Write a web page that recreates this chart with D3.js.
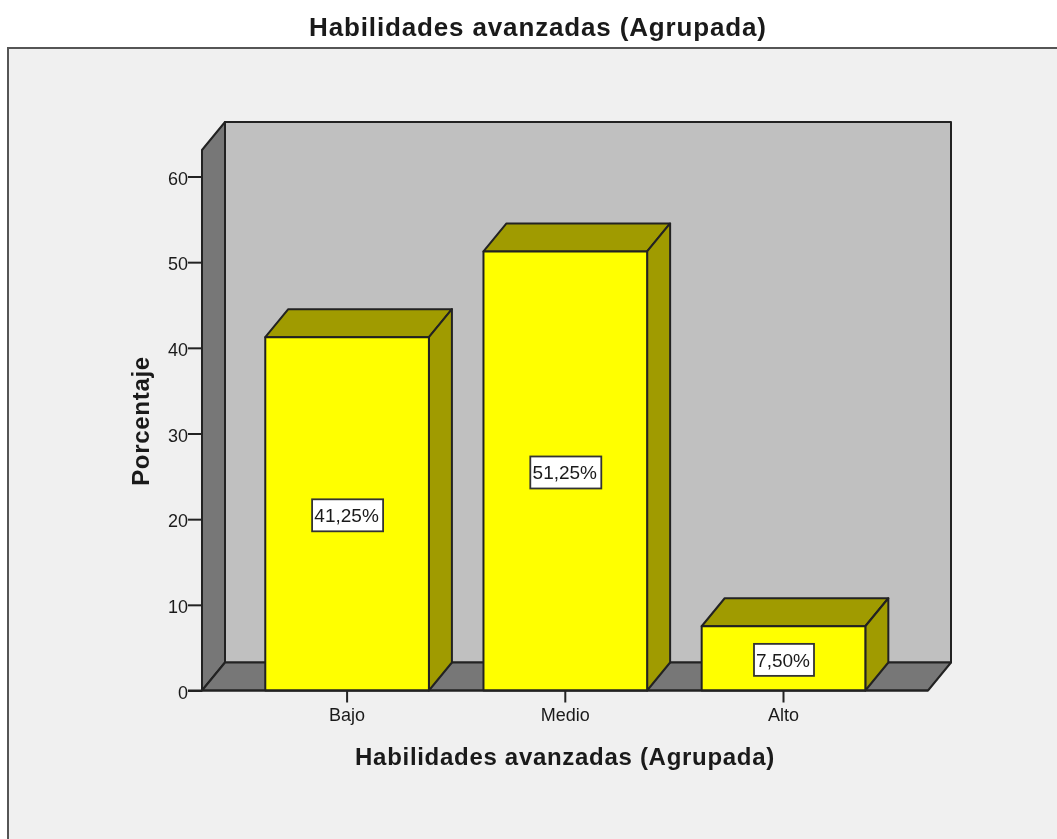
<!DOCTYPE html>
<html><head><meta charset="utf-8">
<script src="https://cdn.jsdelivr.net/npm/d3@7/dist/d3.min.js"></script>
<style>html,body{margin:0;padding:0;background:#fff;overflow:hidden}svg{display:block;filter:blur(.45px)}
text{font-family:"Liberation Sans",Arial,sans-serif;fill:#1a1a1a}</style></head><body>
<svg id="c" width="1057" height="839"></svg>
<script>
const categories = ["Bajo","Medio","Alto"];
const percentages = [41.25,51.25,7.5];
const valueLabels = ["41,25%","51,25%","7,50%"];
const yTicks = [0,10,20,30,40,50,60];
const chartTitle = "Habilidades avanzadas (Agrupada)";
const yTitle = "Porcentaje";

const W=1057,H=839, dx=23, dy=-28, stroke="#222";
const svg=d3.select("#c");
const y=d3.scaleLinear().domain([0,60]).range([690.5,176.5]);
const x=d3.scaleBand().domain(categories).range([238,892.6]).paddingInner(.25).paddingOuter(.125);
const frameL=8, frameT=48, floorL=202, floorR=928, wallTop=150;

svg.append("rect").attr("width",W).attr("height",H).attr("fill","#fff");
svg.append("path").attr("d",`M${frameL},${H+5}V${frameT}H${W+5}V${H+5}Z`).attr("fill","#f0f0f0").attr("stroke","#555").attr("stroke-width",2);
svg.append("text").attr("x",538).attr("y",36).attr("text-anchor","middle").attr("font-size",26).attr("font-weight",700).attr("letter-spacing",.85).text(chartTitle);

const poly=(pts,fill)=>svg.append("path").attr("d","M"+pts.map(p=>p.join(",")).join("L")+"Z").attr("fill",fill).attr("stroke",stroke).attr("stroke-width",2).attr("stroke-linejoin","round");
const y0=y(0);
poly([[floorL+dx,wallTop+dy],[floorR+dx,wallTop+dy],[floorR+dx,y0+dy],[floorL+dx,y0+dy]],"#c0c0c0");
poly([[floorL,wallTop],[floorL+dx,wallTop+dy],[floorL+dx,y0+dy],[floorL,y0]],"#777777");
poly([[floorL,y0],[floorL+dx,y0+dy],[floorR+dx,y0+dy],[floorR,y0]],"#777777");

const yAxis=svg.append("g").attr("transform",`translate(${floorL},0)`).call(d3.axisLeft(y).tickValues(yTicks).tickSize(14).tickPadding(1));
yAxis.select(".domain").remove();
yAxis.selectAll("line").attr("stroke",stroke).attr("stroke-width",2);
yAxis.selectAll("text").attr("font-size",18).attr("font-family",'"Liberation Sans",Arial,sans-serif').attr("fill","#222").attr("dy","0.42em").attr("dx","1");

const bars=svg.selectAll("g.bar").data(categories.map((c,i)=>({c,v:percentages[i],l:valueLabels[i]}))).join("g").attr("class","bar");
bars.each(function(d){
  const g=d3.select(this), xa=x(d.c), xb=xa+x.bandwidth(), t=y(d.v);
  const p=(pts,f)=>g.append("path").attr("d","M"+pts.map(q=>q.join(",")).join("L")+"Z").attr("fill",f).attr("stroke",stroke).attr("stroke-width",2).attr("stroke-linejoin","round");
  p([[xa,t],[xa+dx,t+dy],[xb+dx,t+dy],[xb,t]],"#a09b00");
  p([[xb,t],[xb+dx,t+dy],[xb+dx,y0+dy],[xb,y0]],"#a09b00");
  p([[xa,t],[xb,t],[xb,y0],[xa,y0]],"#ffff00");
  const cx=(xa+xb)/2, cy=(t+y0)/2+1.5;
  const w=d.l.length>5?71:60;
  g.append("rect").attr("x",cx-w/2+.5).attr("y",cy-16).attr("width",w).attr("height",32).attr("fill","#fff").attr("stroke","#333").attr("stroke-width",1.8);
  g.append("text").attr("x",cx-.5).attr("y",cy+7).attr("text-anchor","middle").attr("font-size",19).text(d.l);
});
svg.append("line").attr("x1",floorL-14).attr("x2",floorR).attr("y1",y0).attr("y2",y0).attr("stroke",stroke).attr("stroke-width",2);

const xAxis=svg.append("g").attr("transform",`translate(0,${y0})`).call(d3.axisBottom(x).tickSize(12).tickPadding(6));
xAxis.select(".domain").remove();
xAxis.selectAll("line").attr("stroke",stroke).attr("stroke-width",2);
xAxis.selectAll("text").attr("font-size",18).attr("font-family",'"Liberation Sans",Arial,sans-serif').attr("fill","#222");

svg.append("text").attr("x",565).attr("y",765).attr("text-anchor","middle").attr("font-size",24).attr("font-weight",700).attr("letter-spacing",.7).text(chartTitle);
svg.append("text").attr("transform","translate(149,421) rotate(-90)").attr("text-anchor","middle").attr("font-size",24).attr("font-weight",700).attr("letter-spacing",.7).text(yTitle);
</script></body></html>
